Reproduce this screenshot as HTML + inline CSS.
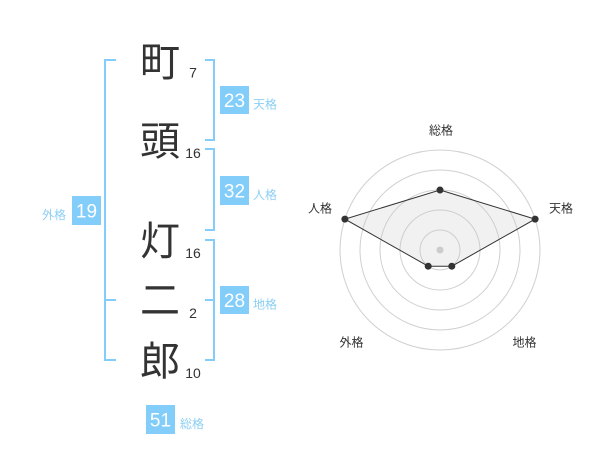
<!DOCTYPE html>
<html><head><meta charset="utf-8"><style>
html,body{margin:0;padding:0;background:#fff;}
svg{display:block;}
text{font-family:"Liberation Sans","Noto Sans CJK JP",sans-serif;}
</style></head><body>
<svg width="600" height="470" viewBox="0 0 600 470" xmlns="http://www.w3.org/2000/svg">
<rect width="600" height="470" fill="#fff"/>
<g fill="none" stroke="#82cdf9" stroke-width="2">
<polyline points="116,60 105,60 105,360 116,360"/>
<line x1="105" y1="300" x2="116" y2="300"/>
<polyline points="205,60 214,60 214,140 205,140"/>
<polyline points="205,149 214,149 214,230 205,230"/>
<polyline points="205,240 214,240 214,360 205,360"/>
<line x1="205" y1="300" x2="214" y2="300"/>
</g>
<g font-size="40" fill="#333" text-anchor="middle">
<text x="160" y="76">町</text>
<text x="160" y="155">頭</text>
<text x="160" y="255">灯</text>
<text x="160" y="314">二</text>
<text x="160" y="375">郎</text>
</g>
<g font-size="14" fill="#333" text-anchor="middle">
<text x="193" y="77.5">7</text>
<text x="193" y="158">16</text>
<text x="193" y="258">16</text>
<text x="193" y="318">2</text>
<text x="193" y="378">10</text>
</g>
<g fill="#82cdf9">
<rect x="220" y="86" width="29" height="28"/>
<rect x="220" y="176" width="29" height="29"/>
<rect x="220" y="286" width="29" height="28"/>
<rect x="72" y="196" width="29" height="29"/>
<rect x="146" y="405" width="29" height="29"/>
</g>
<g font-size="19" fill="#fff" text-anchor="middle">
<text x="234.5" y="107">23</text>
<text x="234.5" y="197.5">32</text>
<text x="234.5" y="307">28</text>
<text x="86.5" y="217.5">19</text>
<text x="160.5" y="426.5">51</text>
</g>
<g font-size="12" fill="#8ccff5">
<text x="253" y="108.5">天格</text>
<text x="253" y="199">人格</text>
<text x="253" y="308.5">地格</text>
<text x="66" y="219" text-anchor="end">外格</text>
<text x="180" y="428">総格</text>
</g>
<g fill="none" stroke="#d0d0d0" stroke-width="1">
<circle cx="440" cy="250" r="20"/>
<circle cx="440" cy="250" r="40"/>
<circle cx="440" cy="250" r="60"/>
<circle cx="440" cy="250" r="80"/>
<circle cx="440" cy="250" r="100"/>
</g>
<polygon points="440,190 535.1,219.1 451.8,266.2 428.2,266.2 344.9,219.1" fill="rgba(200,200,200,0.25)" stroke="#333" stroke-width="1"/>
<circle cx="440" cy="250" r="3.5" fill="#ccc"/>
<g fill="#333">
<circle cx="440" cy="190" r="3.5"/>
<circle cx="535.1" cy="219.1" r="3.5"/>
<circle cx="451.8" cy="266.2" r="3.5"/>
<circle cx="428.2" cy="266.2" r="3.5"/>
<circle cx="344.9" cy="219.1" r="3.5"/>
</g>
<g font-size="12" fill="#333">
<text x="441" y="134.5" text-anchor="middle">総格</text>
<text x="549" y="212.5">天格</text>
<text x="332" y="212.5" text-anchor="end">人格</text>
<text x="351.5" y="346.5" text-anchor="middle">外格</text>
<text x="524.5" y="346.5" text-anchor="middle">地格</text>
</g>
</svg>
</body></html>
